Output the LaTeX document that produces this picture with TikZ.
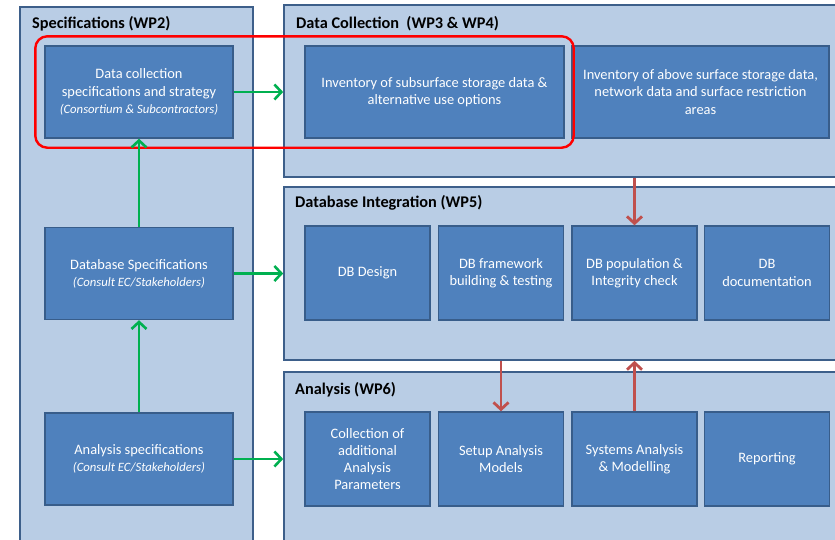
\documentclass[tikz,border=0pt]{standalone}
\usepackage{fontspec}
\setmainfont{Carlito}
\usetikzlibrary{arrows.meta,positioning,fit}
\definecolor{panelfill}{HTML}{B9CDE5}
\definecolor{paneldraw}{HTML}{3D5F8A}
\definecolor{taskfill}{HTML}{4F81BD}
\definecolor{taskdraw}{HTML}{385D8A}
\definecolor{flowgreen}{HTML}{00B050}
\definecolor{flowred}{HTML}{C0504D}
\newcommand{\party}[1]{{\fontsize{12.7}{16}\selectfont\itshape #1}}

\begin{document}
\begin{tikzpicture}[x=1pt,y=-1pt]
   \useasboundingbox (0,0) rectangle (835,539);
   \clip (0,0) rectangle (835,539);
   \fill[white] (0,0) rectangle (835,539);
   \tikzstyle{panel}=[rectangle, fill=panelfill, draw=paneldraw, line width=1.6pt, inner sep=0pt]
   \tikzstyle{title}=[anchor=base west, inner sep=0pt, font=\fontsize{16.3}{19}\selectfont\bfseries]
   \tikzstyle{task}=[rectangle, fill=taskfill, draw=taskdraw, line width=1.4pt, text=white, align=center, inner sep=0pt, font=\fontsize{14.4}{17.2}\selectfont]
   \tikzstyle{gflow}=[draw=flowgreen, line width=2.6pt, -{Straight Barb[length=7pt,width=15pt]}]
   \tikzstyle{rflow}=[draw=flowred, line width=2.8pt, -{Straight Barb[length=7pt,width=15pt]}]
   % work package panels
   \node[panel, minimum width=233pt, minimum height=553pt] (spec) at (136.5,283.5) {};
   \node[panel, minimum width=566pt, minimum height=172pt] (collect) at (567,91) {};
   \node[panel, minimum width=566pt, minimum height=173pt] (integr) at (567,273.5) {};
   \node[panel, minimum width=566pt, minimum height=188pt] (analysis) at (567,466) {};
   \node[title] (spectitle) at (32,28) {Specifications (WP2)};
   \node[title] (collecttitle) at (296,28) {Data Collection\ \ (WP3 \& WP4)};
   \node[title] (integrtitle) at (295,207) {Database Integration (WP5)};
   \node[title] (analysistitle) at (295,394) {Analysis (WP6)};
   % specification tasks
   \tikzstyle{spectask}=[task, minimum width=188pt, minimum height=92pt]
   \node[spectask] (dcspec) at (139,92) {Data collection\\specifications and strategy\\\party{(Consortium \& Subcontractors)}};
   \node[spectask] (dbspec) at (139,273.5) {Database Specifications\\\party{(Consult EC/Stakeholders)}};
   \node[spectask] (anspec) at (139,459) {Analysis specifications\\\party{(Consult EC/Stakeholders)}};
   % data collection tasks
   \node[task, minimum width=259pt, minimum height=92pt] (invsub) at (434.5,92) {Inventory of subsurface storage data \&\\alternative use options};
   \node[task, minimum width=257pt, minimum height=92pt] (invabove) at (700.5,92) {Inventory of above surface storage data,\\network data and surface restriction\\areas};
   % database and analysis tasks
   \foreach \i/\x/\txt in {1/367.5/{DB Design}, 2/501/{DB framework\\building \& testing}, 3/634.5/{DB population \&\\Integrity check}, 4/767/{DB\\documentation}} {
       \node[task, minimum width=125pt, minimum height=94pt] (db\i) at (\x,273) {\txt};
   }
   \foreach \i/\x/\txt in {1/367.5/{Collection of\\additional\\Analysis\\Parameters}, 2/501/{Setup Analysis\\Models}, 3/634.5/{Systems Analysis\\\& Modelling}, 4/767/{Reporting}} {
       \node[task, minimum width=125pt, minimum height=94pt] (an\i) at (\x,459) {\txt};
   }
   \node[fit=(dcspec)(invsub), draw=red, line width=2.4pt, rounded corners=12pt, inner sep=9pt] (focus) {};
   % flows
   \draw[gflow] (dcspec.east) -- (dcspec.east -| collect.west);
   \draw[gflow] (dbspec.east) -- (dbspec.east -| integr.west);
   \draw[gflow] (anspec.east) -- (anspec.east -| analysis.west);
   \draw[gflow] (dbspec.north) -- (dcspec.south);
   \draw[gflow] (anspec.north) -- (dbspec.south);
   \draw[rflow] (collect.south -| db3.north) -- (db3.north);
   \draw[rflow] (integr.south -| an2.north) -- (an2.north);
   \draw[rflow] (an3.north) -- (integr.south -| an3.north);
\end{tikzpicture}
\end{document}
